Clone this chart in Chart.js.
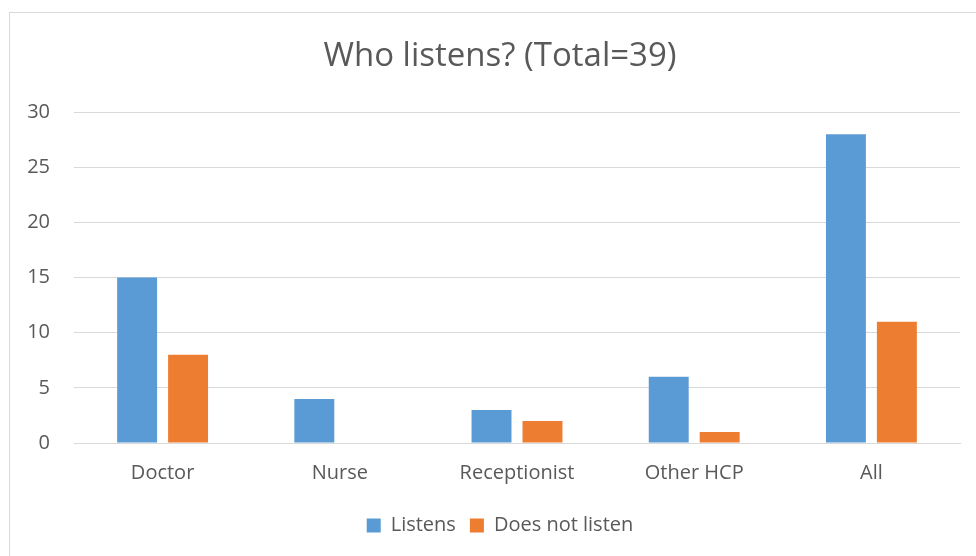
<!DOCTYPE html>
<html>
<head>
<meta charset="utf-8">
<script src="https://cdn.jsdelivr.net/npm/chart.js@4.4.0/dist/chart.umd.min.js"></script>
<style>
  html, body { margin: 0; padding: 0; background: #fff; overflow: hidden; }
  #wrap { position: relative; width: 976px; height: 556px; overflow: hidden; }
  #frame { position: absolute; left: 9px; top: 12px; width: 990px; height: 600px;
           border: 1px solid #d9d9d9; box-sizing: border-box; }
  canvas { position: absolute; left: 0; top: 0; }
</style>
</head>
<body>
<div id="wrap">
  <div id="frame"></div>
  <!-- canvas runs past the window edge, like the original frame does -->
  <canvas id="myChart" width="1006" height="556"></canvas>
</div>
<script>
const categories = ['Doctor', 'Nurse', 'Receptionist', 'Other HCP', 'All'];
const listens = [15, 4, 3, 6, 28];
const doesNotListen = [8, 0, 2, 1, 11];
const yTicks = [0, 5, 10, 15, 20, 25, 30];

const textColor = '#595959';
const fontFamily = "'Open Sans', 'Liberation Sans', sans-serif";

const data = {
  labels: categories,
  datasets: [{
    label: 'Listens',
    backgroundColor: '#5B9BD5',
    data: listens,
    categoryPercentage: 0.575,
    barPercentage: 0.784,
  },{
    label: 'Does not listen',
    backgroundColor: '#ED7D31',
    data: doesNotListen,
    categoryPercentage: 0.575,
    barPercentage: 0.784,
  }]
};

const config = {
  type: 'bar',
  data: data,
  options: {
    responsive: false,
    animation: false,
    layout: { padding: { left: 10, right: 16, top: 0, bottom: 10.5 } },
    scales: {
      x: {
        grid: { display: false },
        border: { display: true, color: '#d9d9d9', width: 1 },
        ticks: { color: textColor, font: { family: fontFamily, size: 20 }, padding: 10 },
        afterFit(scale) { scale.height = 58.5; }
      },
      y: {
        min: 0,
        max: 30,
        afterBuildTicks(scale) { scale.ticks = yTicks.map(v => ({ value: v })); },
        grid: { color: '#d9d9d9', drawTicks: false },
        border: { display: false },
        ticks: { color: textColor, font: { family: fontFamily, size: 20 }, padding: 24 },
        afterFit(scale) { scale.width = 64; }
      },
      // empty spacer on the right so the plot ends at the same place
      yRight: {
        position: 'right',
        grid: { display: false },
        border: { display: false },
        ticks: { display: false },
        afterFit(scale) { scale.width = 30; }
      }
    },
    plugins: {
      title: {
        display: true,
        text: 'Who listens? (Total=39)',
        color: textColor,
        font: { family: fontFamily, size: 33, weight: 'normal' },
        padding: { top: 36.5, bottom: 36 }
      },
      legend: {
        position: 'bottom',
        labels: {
          color: textColor,
          font: { family: fontFamily, size: 20 },
          boxWidth: 14,
          boxHeight: 14,
          padding: 14
        }
      },
      tooltip: { enabled: false }
    }
  }
};

const myChart = new Chart(
  document.getElementById('myChart'),
  config
);
</script>
</body>
</html>
